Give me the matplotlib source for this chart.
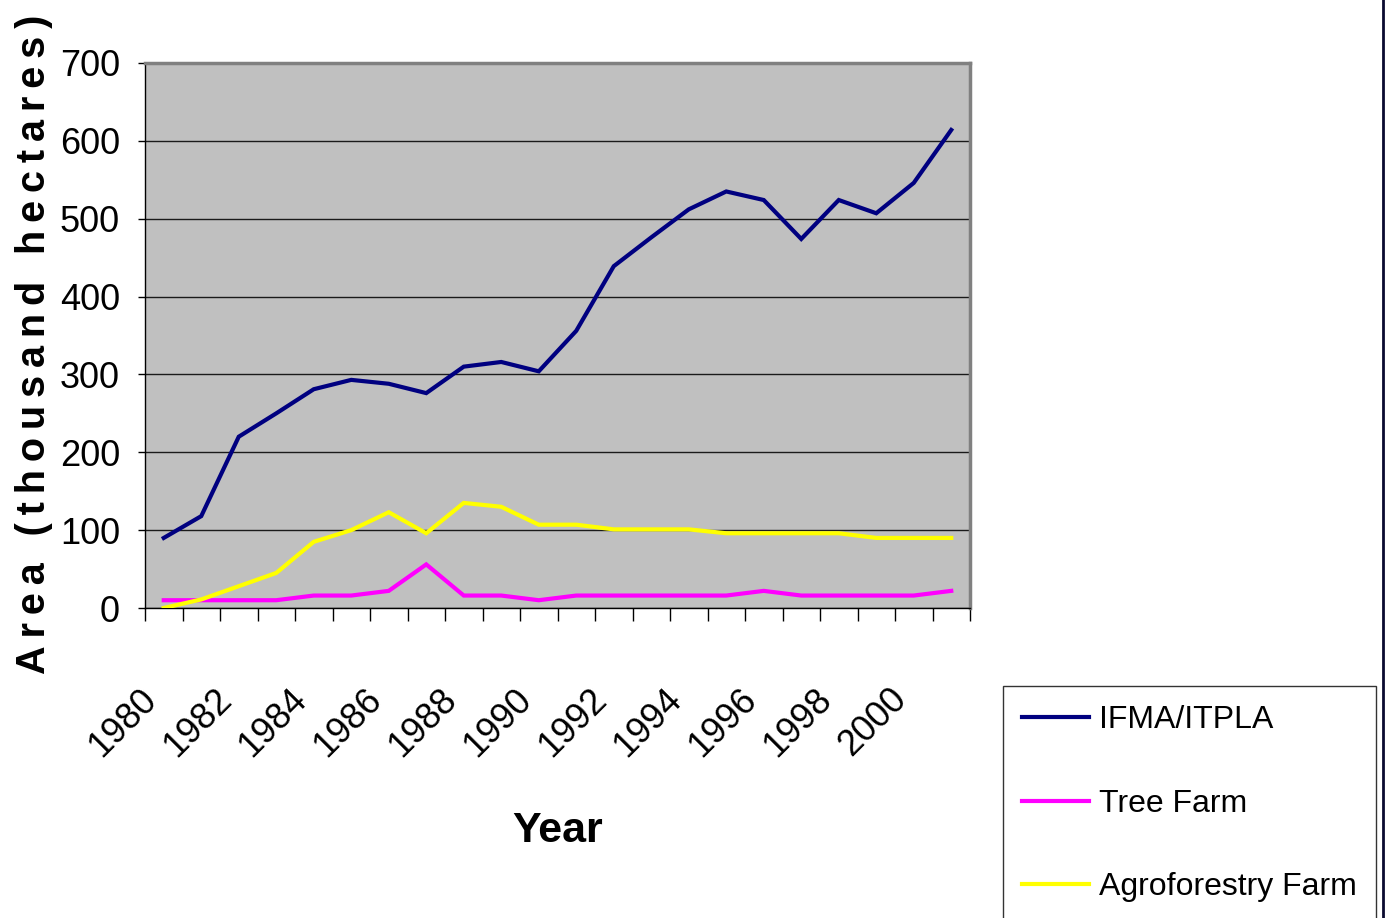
import matplotlib
matplotlib.use("Agg")
import matplotlib.pyplot as plt
from matplotlib.lines import Line2D

years = list(range(1980, 2002))
ifma_itpla = [90, 118, 220, 250, 281, 293, 288, 276, 310, 316, 304, 356,
              439, 476, 512, 535, 524, 474, 524, 507, 546, 614]
tree_farm = [10, 10, 10, 10, 16, 16, 22, 56, 16, 16, 10, 16,
             16, 16, 16, 16, 22, 16, 16, 16, 16, 22]
agroforestry = [0, 11, 28, 45, 85, 100, 123, 96, 135, 130, 107, 107,
                101, 101, 101, 96, 96, 96, 96, 90, 90, 90]
series_names = ["IFMA/ITPLA", "Tree Farm", "Agroforestry Farm"]
series_colors = ["#000080", "#FF00FF", "#FFFF00"]
yticks = list(range(0, 701, 100))

plt.rcParams["font.family"] = ["Liberation Sans", "DejaVu Sans"]

fig = plt.figure(figsize=(13.85, 9.18), dpi=100)
ax = fig.add_axes([145 / 1385, 1 - 608 / 918, 825 / 1385, 545 / 918])
ax.set_facecolor("#C0C0C0")

x = list(range(len(years)))
handles = []
for vals, name, col in zip([ifma_itpla, tree_farm, agroforestry],
                           series_names, series_colors):
    ln, = ax.plot(x, vals, color=col, lw=3, label=name,
                  solid_joinstyle="miter", zorder=3)
    handles.append(ln)

ax.set_xlim(-0.5, len(years) - 0.5)
ax.set_ylim(0, 700)
ax.set_yticks(yticks)
ax.set_yticklabels([str(v) for v in yticks])
ax.grid(axis="y", color="#1a1a1a", lw=1.0, zorder=1)

# labels every other year at category centres, ticks at boundaries
ax.set_xticks(x[::2])
ax.set_xticklabels([str(y) for y in years[::2]], rotation=45,
                   ha="right", va="top")
ax.set_xticks([i - 0.5 for i in range(len(years) + 1)], minor=True)
ax.tick_params(axis="x", which="major", length=0, pad=53, labelsize=26)
ax.tick_params(axis="x", which="minor", length=9, width=1, color="black",
               direction="out")
ax.tick_params(axis="y", length=5, width=1, pad=13, labelsize=26)

for side in ["top", "right"]:
    ax.spines[side].set_color("#808080")
    ax.spines[side].set_linewidth(2.5)
ax.spines["left"].set_color("black")
ax.spines["bottom"].set_color("black")
ax.spines["left"].set_linewidth(1)
ax.spines["bottom"].set_linewidth(1)

ax.set_xlabel("Year", fontsize=31, fontweight="bold")
ax.xaxis.set_label_coords(0.5, -0.372)

ylab = "\u2009 \u2009".join("\u2009".join(w) for w in
                            ["Area", "(thousand", "hectares)"])
ax.set_ylabel(ylab, fontsize=28.5, fontweight="bold", va="center", ha="center")
ax.yaxis.set_label_coords(-0.135, 0.483)

leg = fig.legend(handles=handles, loc="upper left",
                 bbox_to_anchor=(1003 / 1385, 1 - 686 / 918),
                 bbox_transform=fig.transFigure, fontsize=23,
                 frameon=True, fancybox=False, edgecolor="black",
                 borderpad=0.6, labelspacing=1.68, handlelength=2.1,
                 handletextpad=0.3, borderaxespad=0)
leg.get_frame().set_linewidth(1)
for ln in leg.get_lines():
    ln.set_linewidth(3)

fig.add_artist(Line2D([1383 / 1385, 1383 / 1385], [0, 1],
                      transform=fig.transFigure, color="#0A0A30", lw=2))

fig.savefig("out.png", dpi=100)
